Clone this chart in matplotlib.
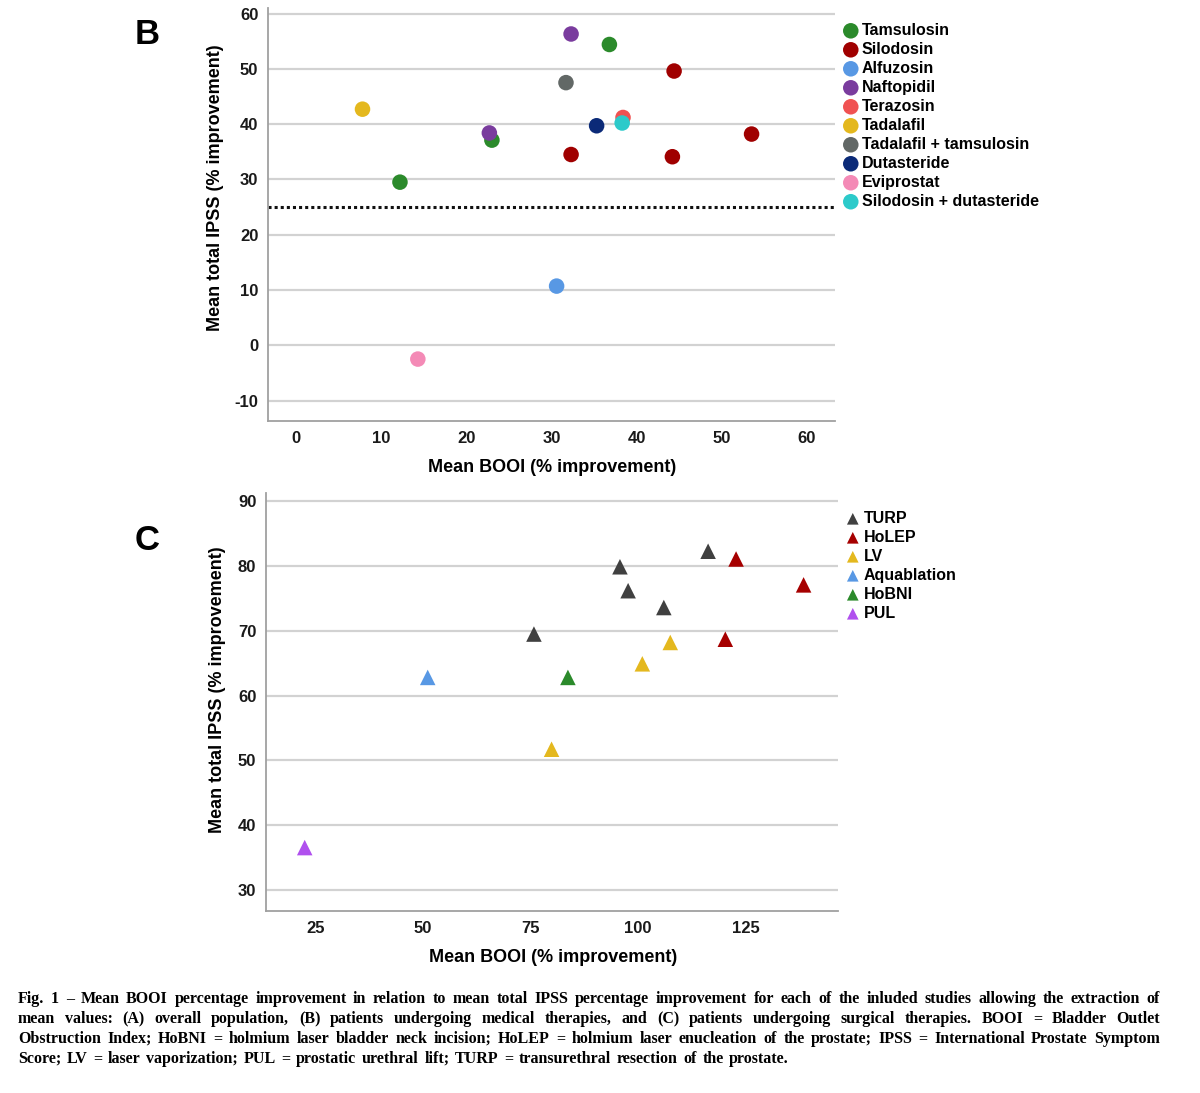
"""plot.py — BOOI vs IPSS improvement, panels B (medical) and C (surgical)."""
import matplotlib
matplotlib.use("Agg")
import matplotlib.pyplot as plt

# ---- panel B: medical therapies -------------------------------------------
med_names = ["Tamsulosin", "Silodosin", "Alfuzosin", "Naftopidil", "Terazosin",
             "Tadalafil", "Tadalafil + tamsulosin", "Dutasteride", "Eviprostat",
             "Silodosin + dutasteride"]
med_colors = ["#2b8a2b", "#a00000", "#5898e4", "#7a3c9e", "#f05252",
              "#e4b81e", "#626866", "#0b2a78", "#f48ab6", "#2ccaca"]
med_booi = {
    "Tamsulosin": [12.2, 23.0, 36.8],
    "Silodosin": [44.4, 32.3, 44.2, 53.5],
    "Alfuzosin": [30.6],
    "Naftopidil": [22.7, 32.3],
    "Terazosin": [38.4],
    "Tadalafil": [7.8],
    "Tadalafil + tamsulosin": [31.7],
    "Dutasteride": [35.3],
    "Eviprostat": [14.3],
    "Silodosin + dutasteride": [38.3],
}
med_ipss = {
    "Tamsulosin": [29.5, 37.1, 54.4],
    "Silodosin": [49.6, 34.5, 34.1, 38.2],
    "Alfuzosin": [10.7],
    "Naftopidil": [38.4, 56.3],
    "Terazosin": [41.2],
    "Tadalafil": [42.7],
    "Tadalafil + tamsulosin": [47.5],
    "Dutasteride": [39.7],
    "Eviprostat": [-2.5],
    "Silodosin + dutasteride": [40.2],
}
MCID = 25

# ---- panel C: surgical therapies ------------------------------------------
surg_names = ["TURP", "HoLEP", "LV", "Aquablation", "HoBNI", "PUL"]
surg_colors = ["#404040", "#a60000", "#e4b81e", "#5898e4", "#2b8a2b", "#b050ee"]
surg_booi = {
    "TURP": [75.8, 95.8, 97.7, 106.0, 116.3],
    "HoLEP": [122.8, 120.3, 138.5],
    "LV": [79.9, 101.0, 107.5],
    "Aquablation": [51.1],
    "HoBNI": [83.7],
    "PUL": [22.5],
}
surg_ipss = {
    "TURP": [69.5, 79.9, 76.2, 73.6, 82.3],
    "HoLEP": [81.1, 68.7, 77.1],
    "LV": [51.7, 64.9, 68.2],
    "Aquablation": [62.8],
    "HoBNI": [62.8],
    "PUL": [36.5],
}

CAPTION = [
    "Fig. 1 \u2013 Mean BOOI percentage improvement in relation to mean total IPSS percentage improvement for each of the inluded studies allowing the extraction of",
    "mean values: (A) overall population, (B) patients undergoing medical therapies, and (C) patients undergoing surgical therapies. BOOI = Bladder Outlet",
    "Obstruction Index; HoBNI = holmium laser bladder neck incision; HoLEP = holmium laser enucleation of the prostate; IPSS = International Prostate Symptom",
    "Score; LV = laser vaporization; PUL = prostatic urethral lift; TURP = transurethral resection of the prostate.",
]

GRID, SPINE = "#d2d2d2", "#a0a0a0"
plt.rcParams.update({"font.family": "Liberation Sans", "font.weight": "bold",
                     "axes.unicode_minus": False})

W, H = 1200, 1093
fig = plt.figure(figsize=(W / 100, H / 100), dpi=100)
fig.patch.set_facecolor("white")


def px(x0, y0, x1, y1):
    return [x0 / W, 1 - y1 / H, (x1 - x0) / W, (y1 - y0) / H]


def style(ax):
    ax.spines[["top", "right"]].set_visible(False)
    for s in ("left", "bottom"):
        ax.spines[s].set_color(SPINE)
        ax.spines[s].set_linewidth(1.3)
    ax.tick_params(length=0, labelsize=12, pad=7, colors="#1a1a1a")
    ax.grid(axis="y", color=GRID, lw=1.6)
    ax.set_axisbelow(True)


# ---- B ---------------------------------------------------------------------
axb = fig.add_axes(px(268, 8, 835, 421))
for name, col in zip(med_names, med_colors):
    axb.scatter(med_booi[name], med_ipss[name], s=125, color=col,
                edgecolor="none", zorder=3, label=name)
axb.axhline(MCID, color="#111111", ls=(0, (1, 1)), lw=2.2, zorder=2)
axb.set_xlim(-3.3, 63.3)
axb.set_ylim(-13.7, 61)
axb.set_xticks(range(0, 61, 10))
axb.set_yticks(range(-10, 61, 10))
style(axb)
axb.legend(loc="upper left", bbox_to_anchor=(838 / W, 1 - 23 / H),
           bbox_transform=fig.transFigure, frameon=False, fontsize=11.5,
           handletextpad=-0.1, labelspacing=0.25, borderpad=0,
           borderaxespad=0, markerscale=1.0, handlelength=1.6)

fig.text(215 / W, 1 - 188 / H, "Mean total IPSS (% improvement)", rotation=90,
         ha="center", va="center", fontsize=13)
fig.text(552 / W, 1 - 467 / H, "Mean BOOI (% improvement)", ha="center",
         va="center", fontsize=13)
fig.text(147 / W, 1 - 35 / H, "B", ha="center", va="center", fontsize=25)

# ---- C ---------------------------------------------------------------------
axc = fig.add_axes(px(266, 493, 838, 911))
for name, col in zip(surg_names, surg_colors):
    axc.scatter(surg_booi[name], surg_ipss[name], s=125, marker="^", color=col,
                edgecolor="none", zorder=3, label=name)
axc.set_xlim(13.5, 146.5)
axc.set_ylim(26.7, 91.3)
axc.set_xticks(range(25, 126, 25))
axc.set_yticks(range(30, 91, 10))
style(axc)
axc.legend(loc="upper left", bbox_to_anchor=(840 / W, 1 - 511 / H),
           bbox_transform=fig.transFigure, frameon=False, fontsize=11.5,
           handletextpad=-0.1, labelspacing=0.25, borderpad=0,
           borderaxespad=0, markerscale=0.75, handlelength=1.6)

fig.text(218 / W, 1 - 690 / H, "Mean total IPSS (% improvement)", rotation=90,
         ha="center", va="center", fontsize=13)
fig.text(553 / W, 1 - 957 / H, "Mean BOOI (% improvement)", ha="center",
         va="center", fontsize=13)
fig.text(147 / W, 1 - 541 / H, "C", ha="center", va="center", fontsize=25)

# ---- caption (justified) ------------------------------------------------------
renderer = fig.canvas.get_renderer()
left, right = 18, 1160
for i, line in enumerate(CAPTION):
    y = 1 - (1003 + i * 20) / H
    words = line.split(" ")
    texts = [fig.text(0, y, w, fontsize=11.5, family="Liberation Serif",
                      fontweight="bold", va="baseline") for w in words]
    widths = [t.get_window_extent(renderer).width for t in texts]
    space = (right - left - sum(widths)) / (len(words) - 1)
    if i == len(CAPTION) - 1:
        space = min(space, 5.6)
    x = left
    for t, w in zip(texts, widths):
        t.set_x(x / W)
        x += w + space

fig.savefig("out.png", dpi=100)
